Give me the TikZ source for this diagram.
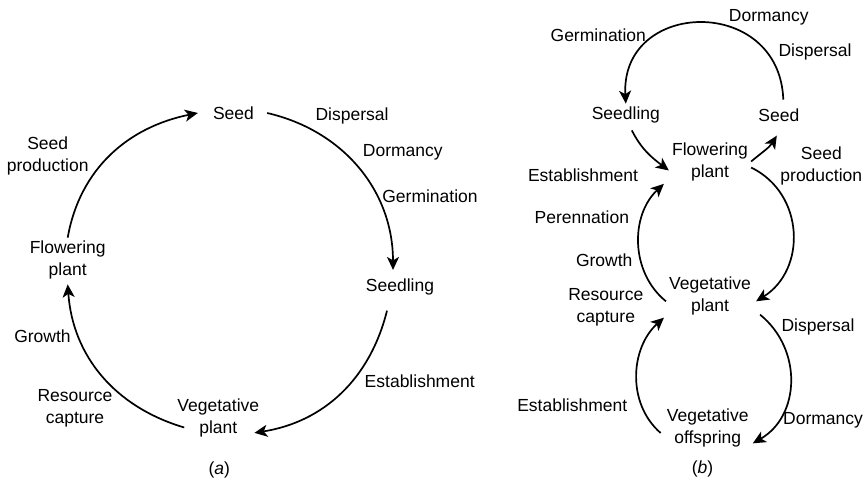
\documentclass[tikz,border=0pt]{standalone}
\usepackage{fontspec}
\setmainfont{Liberation Sans}
\usetikzlibrary{arrows.meta}

\begin{document}
\begin{tikzpicture}[x=1pt,y=1pt,
  every node/.style={font=\fontsize{17.5}{22}\selectfont, align=center, inner sep=3pt},
  cyc/.style={line width=1.7pt, -{Stealth[length=13pt,width=12pt,inset=3.5pt]}}]
  \useasboundingbox (0,0) rectangle (866,482);

  % (a) single cycle
  \node (seedA) at (233.5,369) {Seed};
  \node (seedlingA) at (400,194.7) {Seedling};
  \node (vegA) at (218.3,64.5) {Vegetative\\plant};
  \node (flowerA) at (67.7,222) {Flowering\\plant};
  \node (dispA) at (352,366) {Dispersal};
  \node (dormA) at (402.8,329.3) {Dormancy};
  \node (germA) at (430,286) {Germination};
  \node (estabA) at (419.7,100.3) {Establishment};
  \node (rescapA) at (75,73.7) {Resource\\capture};
  \node (growthA) at (42.5,146) {Growth};
  \node (seedprodA) at (47.7,326.2) {Seed\\production};
  \node (capA) at (219.3,12) {(\textit{a})};

  \draw[cyc] ([xshift=10pt]seedA.east) to[out=-13,in=90] ([xshift=-7pt,yshift=6pt]seedlingA.north);
  \draw[cyc] ([xshift=-13pt,yshift=-12pt]seedlingA.south) to[out=-104,in=9] ([xshift=-8pt,yshift=7pt]vegA.south east);
  \draw[cyc] ([xshift=10pt,yshift=-10pt]vegA.west) to[out=163.5,in=-86] ([yshift=-2pt]flowerA.south);
  \draw[cyc] (flowerA.north) to[out=80,in=-168.6] ([xshift=-12pt]seedA.west);

  % (b) three linked cycles
  \node (seedB) at (778.8,367) {Seed};
  \node (seedlingB) at (625.8,367) {Seedling};
  \node (flowerB) at (710,320.5) {Flowering\\plant};
  \node (vegB) at (710,185.7) {Vegetative\\plant};
  \node (offB) at (707.7,54) {Vegetative\\offspring};
  \node (dormB1) at (768.8,464.7) {Dormancy};
  \node (germB) at (598.3,447) {Germination};
  \node (dispB1) at (815,430.3) {Dispersal};
  \node (seedprodB) at (821.3,315.7) {Seed\\production};
  \node (estabB1) at (583,307) {Establishment};
  \node (perennB) at (581.8,264.7) {Perennation};
  \node (growthB) at (604.2,222) {Growth};
  \node (rescapB) at (605.8,175.2) {Resource\\capture};
  \node (dispB2) at (818,154.7) {Dispersal};
  \node (estabB2) at (572.2,77) {Establishment};
  \node (dormB2) at (823,61.3) {Dormancy};
  \node (capB) at (702.5,13) {(\textit{b})};

  \draw[cyc] ([xshift=4.5pt,yshift=5.7pt]seedB.north) to[out=92,in=93,looseness=1.7] (seedlingB.north);
  \draw[cyc] ([xshift=6pt,yshift=-4pt]seedlingB.south) to[out=-63,in=143] ([yshift=-9pt]flowerB.west);
  \draw[cyc] (flowerB.east) to[out=40,in=-122] ([xshift=-2pt,yshift=-11pt]seedB.south);
  \draw[cyc] ([yshift=-6pt]flowerB.east) to[out=-26,in=32,looseness=1.14] ([xshift=2pt,yshift=-5pt]vegB.east);
  \draw[cyc] ([yshift=-5pt]vegB.west) to[out=141,in=-137] ([xshift=-5pt]flowerB.south west);
  \draw[cyc] ([xshift=6pt,yshift=4pt]vegB.south east) to[out=-39,in=30,looseness=1.09] ([xshift=1pt,yshift=7pt]offB.south east);
  \draw[cyc] ([xshift=-3pt,yshift=-5pt]offB.west) to[out=139,in=-138] ([xshift=-2pt,yshift=1pt]vegB.south west);
\end{tikzpicture}
\end{document}
